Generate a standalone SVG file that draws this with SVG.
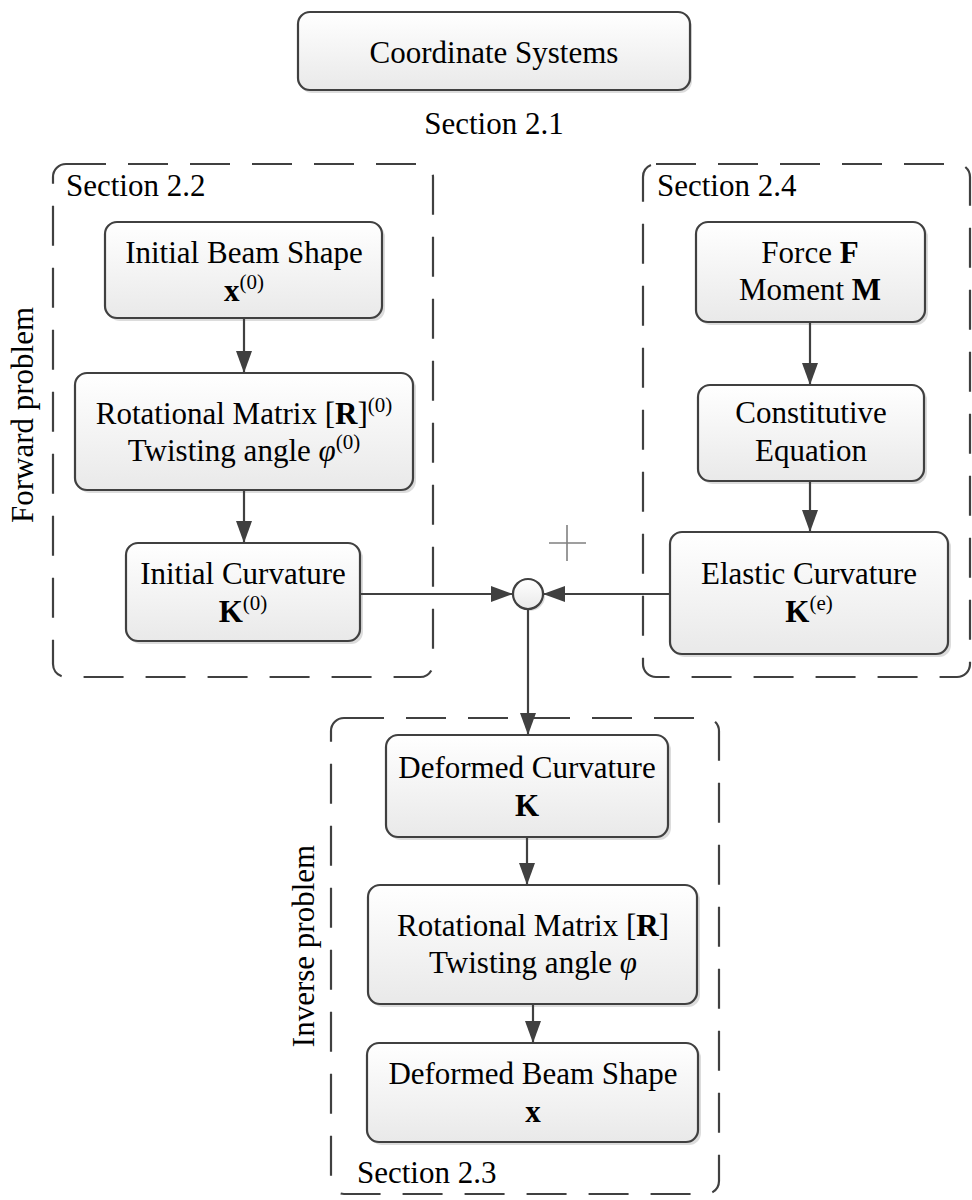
<svg xmlns="http://www.w3.org/2000/svg" width="972" height="1200" viewBox="0 0 972 1200">
<defs>
<linearGradient id="g" x1="0" y1="0" x2="0" y2="1">
<stop offset="0" stop-color="#ffffff"/>
<stop offset="1" stop-color="#e9e9e9"/>
</linearGradient>
<marker id="ah" markerUnits="userSpaceOnUse" markerWidth="24" markerHeight="18" refX="22" refY="8" orient="auto">
<path d="M0,0 L22,8 L0,16 z" fill="#404040"/>
</marker>
<style>
.box{fill:url(#g);stroke:#404040;stroke-width:2.2}
.sh{fill:#dcdcdc;stroke:none}
.cont{fill:none;stroke:#404040;stroke-width:2.2;stroke-dasharray:40 22}
.t{font-family:"Liberation Serif","Times New Roman",serif;font-size:31px;fill:#000;text-anchor:middle}
.l{font-family:"Liberation Serif","Times New Roman",serif;font-size:31px;fill:#000}
.b{font-weight:bold}
.i{font-style:italic}
.sup{font-size:21px}
.c{fill:none;stroke:#404040;stroke-width:2.2;marker-end:url(#ah)}
</style>
</defs>
<rect width="972" height="1200" fill="#ffffff"/>

<g id="containers">
<rect id="sec22" class="cont" x="53" y="164" width="380" height="513" rx="13"/>
<rect id="sec24" class="cont" x="643" y="164" width="327" height="513" rx="13"/>
<rect id="sec23" class="cont" x="331" y="718" width="388" height="476" rx="13"/>
<text class="l" x="66" y="196">Section 2.2</text>
<text class="l" x="657" y="196">Section 2.4</text>
<text class="l" x="357" y="1183">Section 2.3</text>
<text class="t" transform="translate(33,415) rotate(-90)">Forward problem</text>
<text class="t" transform="translate(314,946) rotate(-90)">Inverse problem</text>
</g>

<g id="coord">
<rect class="sh" x="300" y="15" width="392" height="78" rx="12"/>
<rect class="box" x="298" y="12" width="392" height="78" rx="12"/>
<text class="t" x="494" y="63">Coordinate Systems</text>
<text class="t" x="494" y="134">Section 2.1</text>
</g>

<g id="initShape">
<rect class="sh" x="108" y="225" width="277" height="96" rx="12"/>
<rect class="box" x="105" y="222" width="277" height="96" rx="12"/>
<text class="t" x="244" y="263">Initial Beam Shape</text>
<text class="t" x="244" y="301"><tspan class="b">x</tspan><tspan class="sup" dy="-12">(0)</tspan></text>
</g>

<g id="rot0">
<rect class="sh" x="78" y="376" width="338" height="117" rx="12"/>
<rect class="box" x="75" y="373" width="338" height="117" rx="12"/>
<text class="t" x="244" y="424">Rotational Matrix [<tspan class="b">R</tspan>]<tspan class="sup" dy="-12">(0)</tspan></text>
<text class="t" x="244" y="461">Twisting angle <tspan class="i">φ</tspan><tspan class="sup" dy="-12">(0)</tspan></text>
</g>

<g id="initCurv">
<rect class="sh" x="129" y="546" width="234" height="98" rx="12"/>
<rect class="box" x="126" y="543" width="234" height="98" rx="12"/>
<text class="t" x="243" y="584">Initial Curvature</text>
<text class="t" x="243" y="622"><tspan class="b">K</tspan><tspan class="sup" dy="-12">(0)</tspan></text>
</g>

<g id="force">
<rect class="sh" x="699" y="225" width="229" height="100" rx="12"/>
<rect class="box" x="696" y="222" width="229" height="100" rx="12"/>
<text class="t" x="810" y="263">Force <tspan class="b">F</tspan></text>
<text class="t" x="810" y="300">Moment <tspan class="b">M</tspan></text>
</g>

<g id="const">
<rect class="sh" x="701" y="388" width="226" height="96" rx="12"/>
<rect class="box" x="698" y="385" width="226" height="96" rx="12"/>
<text class="t" x="811" y="423">Constitutive</text>
<text class="t" x="811" y="461">Equation</text>
</g>

<g id="elastic">
<rect class="sh" x="673" y="535" width="278" height="122" rx="12"/>
<rect class="box" x="670" y="532" width="278" height="122" rx="12"/>
<text class="t" x="809" y="584">Elastic Curvature</text>
<text class="t" x="809" y="622"><tspan class="b">K</tspan><tspan class="sup" dy="-12">(e)</tspan></text>
</g>

<g id="sum">
<circle cx="530" cy="596" r="15" fill="#dcdcdc"/>
<circle cx="528" cy="594" r="15" fill="url(#g)" stroke="#404040" stroke-width="2.2"/>
<path d="M549,543 H586 M567,525 V561" stroke="#808080" stroke-width="1.6" fill="none"/>
</g>

<g id="defCurv">
<rect class="sh" x="389" y="738" width="282" height="102" rx="12"/>
<rect class="box" x="386" y="735" width="282" height="102" rx="12"/>
<text class="t" x="527" y="778">Deformed Curvature</text>
<text class="t" x="527" y="816" font-weight="bold">K</text>
</g>

<g id="rot">
<rect class="sh" x="371" y="888" width="329" height="119" rx="12"/>
<rect class="box" x="368" y="885" width="329" height="119" rx="12"/>
<text class="t" x="533" y="936">Rotational Matrix [<tspan class="b">R</tspan>]</text>
<text class="t" x="533" y="973">Twisting angle <tspan class="i">φ</tspan></text>
</g>

<g id="defShape">
<rect class="sh" x="370" y="1046" width="331" height="99" rx="12"/>
<rect class="box" x="367" y="1043" width="331" height="99" rx="12"/>
<text class="t" x="533" y="1084">Deformed Beam Shape</text>
<text class="t" x="533" y="1122" font-weight="bold">x</text>
</g>

<g id="connectors">
<line class="c" x1="244" y1="318" x2="244" y2="373"/>
<line class="c" x1="244" y1="490" x2="244" y2="543"/>
<line class="c" x1="360" y1="594" x2="513" y2="594"/>
<line class="c" x1="670" y1="594" x2="543" y2="594"/>
<line class="c" x1="528" y1="609" x2="528" y2="735"/>
<line class="c" x1="810" y1="322" x2="810" y2="385"/>
<line class="c" x1="810" y1="481" x2="810" y2="532"/>
<line class="c" x1="527" y1="837" x2="527" y2="885"/>
<line class="c" x1="533" y1="1004" x2="533" y2="1043"/>
</g>
</svg>
